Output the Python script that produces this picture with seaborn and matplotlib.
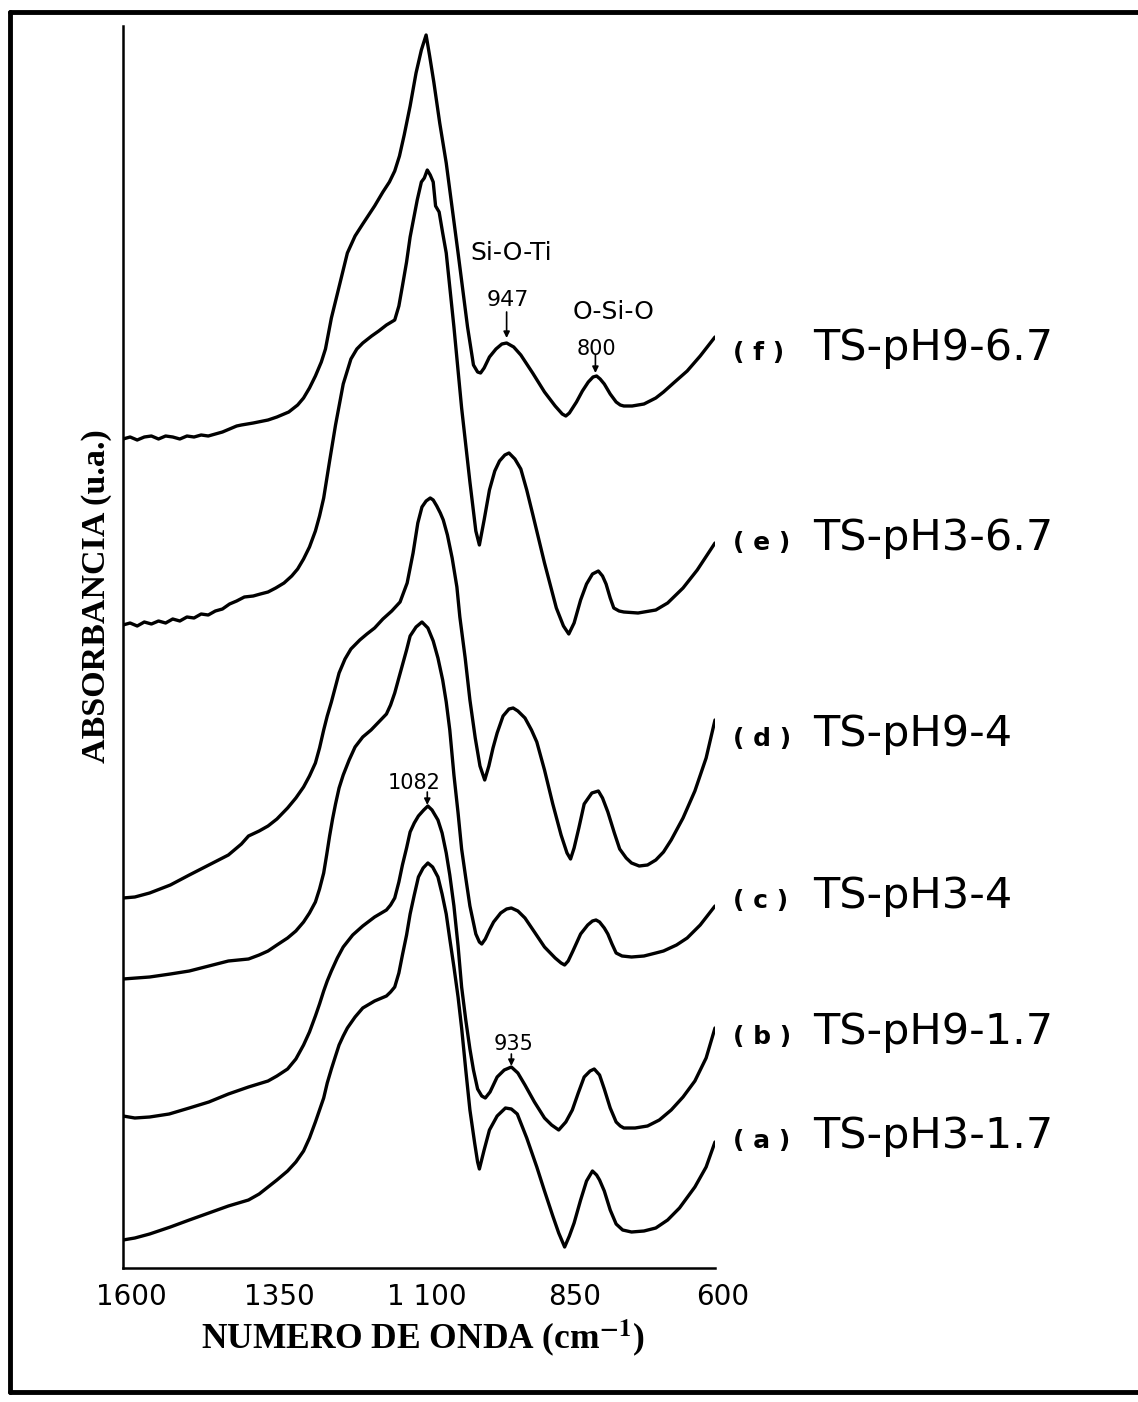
import pandas as pd
import matplotlib
matplotlib.use("Agg")
import matplotlib.pyplot as plt
import matplotlib.transforms as mtransforms
from matplotlib.lines import Line2D
import seaborn as sns

# wavenumber (cm-1) and stacked absorbance (a.u.)
wn_f = [1600, 1588, 1576, 1564, 1552, 1540, 1528, 1516, 1504, 1492, 1480, 1468, 1456, 1444, 1432,
        1420, 1408, 1400, 1380, 1355, 1340, 1320, 1305, 1295, 1285, 1275, 1265, 1258, 1248, 1238,
        1221, 1208, 1195, 1175, 1161, 1150, 1141, 1133, 1125, 1115, 1105, 1096, 1088, 1082, 1075,
        1065, 1054, 1044, 1034, 1026, 1018, 1008, 1001, 996, 990, 981, 970, 960, 952, 940, 928,
        908, 888, 870, 858, 852, 846, 834, 824, 814, 806, 800, 794, 787, 777, 767, 760, 754, 740,
        720, 700, 687, 670, 647, 625, 600]
abs_f = [8.29, 8.31, 8.28, 8.31, 8.32, 8.29, 8.32, 8.31, 8.29, 8.32, 8.31, 8.33, 8.32, 8.34, 8.36,
         8.39, 8.42, 8.43, 8.45, 8.48, 8.51, 8.56, 8.63, 8.70, 8.80, 8.92, 9.06, 9.19, 9.50, 9.74,
         10.15, 10.32, 10.44, 10.62, 10.76, 10.86, 10.97, 11.12, 11.33, 11.62, 11.95, 12.18, 12.33,
         12.12, 11.86, 11.45, 11.05, 10.60, 10.15, 9.78, 9.41, 9.03, 8.96, 8.95, 9.00, 9.11, 9.19,
         9.24, 9.25, 9.21, 9.13, 8.95, 8.76, 8.62, 8.54, 8.52, 8.55, 8.66, 8.77, 8.86, 8.91, 8.92,
         8.89, 8.84, 8.74, 8.66, 8.63, 8.62, 8.62, 8.64, 8.70, 8.76, 8.85, 8.97, 9.12, 9.31]

wn_e = [1600, 1588, 1576, 1564, 1552, 1540, 1528, 1516, 1504, 1492, 1480, 1468, 1456, 1444, 1432,
        1420, 1408, 1395, 1380, 1368, 1355, 1342, 1328, 1315, 1305, 1295, 1285, 1275, 1268, 1261,
        1251, 1241, 1228, 1215, 1205, 1195, 1180, 1168, 1155, 1141, 1134, 1128, 1121, 1115, 1103,
        1096, 1091, 1086, 1081, 1076, 1072, 1066, 1060, 1054, 1041, 1028, 1014, 1004, 998, 990,
        981, 972, 964, 955, 948, 938, 928, 918, 908, 888, 868, 856, 847, 838, 827, 817, 807, 797,
        790, 784, 777, 771, 762, 754, 730, 700, 680, 654, 630, 600]
abs_e = [6.43, 6.45, 6.42, 6.46, 6.44, 6.47, 6.45, 6.49, 6.47, 6.51, 6.50, 6.54, 6.53, 6.57, 6.59,
         6.64, 6.67, 6.71, 6.72, 6.74, 6.76, 6.80, 6.85, 6.92, 6.99, 7.09, 7.21, 7.37, 7.52, 7.70,
         8.07, 8.43, 8.84, 9.09, 9.19, 9.25, 9.32, 9.37, 9.43, 9.48, 9.62, 9.82, 10.06, 10.31,
         10.68, 10.86, 10.90, 10.98, 10.93, 10.86, 10.62, 10.56, 10.35, 10.15, 9.41, 8.60, 7.86,
         7.37, 7.23, 7.48, 7.78, 7.97, 8.07, 8.13, 8.15, 8.09, 7.99, 7.78, 7.54, 7.05, 6.60, 6.42,
         6.34, 6.45, 6.68, 6.84, 6.94, 6.97, 6.92, 6.84, 6.70, 6.60, 6.57, 6.56, 6.55, 6.58, 6.65,
         6.80, 6.98, 7.25]

wn_d = [1600, 1580, 1555, 1520, 1488, 1455, 1422, 1400, 1388, 1370, 1355, 1340, 1322, 1308, 1295,
        1285, 1275, 1268, 1261, 1255, 1248, 1235, 1225, 1215, 1200, 1188, 1175, 1161, 1146, 1132,
        1120, 1110, 1102, 1095, 1088, 1081, 1076, 1070, 1064, 1059, 1052, 1044, 1036, 1031, 1022,
        1014, 1005, 997, 989, 982, 975, 968, 958, 948, 941, 933, 921, 910, 901, 888, 874, 860, 850,
        844, 838, 830, 821, 808, 797, 790, 781, 770, 761, 750, 741, 728, 714, 700, 687, 674, 654,
        634, 615, 600]
abs_d = [3.70, 3.71, 3.75, 3.83, 3.93, 4.03, 4.13, 4.24, 4.32, 4.37, 4.42, 4.49, 4.60, 4.70, 4.81,
         4.92, 5.05, 5.20, 5.38, 5.52, 5.66, 5.95, 6.09, 6.19, 6.28, 6.34, 6.40, 6.49, 6.57, 6.66,
         6.85, 7.15, 7.45, 7.61, 7.67, 7.70, 7.68, 7.62, 7.55, 7.48, 7.33, 7.10, 6.81, 6.51, 6.10,
         5.68, 5.30, 5.02, 4.88, 5.02, 5.20, 5.35, 5.52, 5.59, 5.60, 5.57, 5.50, 5.38, 5.26, 4.98,
         4.64, 4.33, 4.15, 4.09, 4.20, 4.40, 4.64, 4.75, 4.77, 4.70, 4.56, 4.35, 4.19, 4.10, 4.05,
         4.02, 4.03, 4.08, 4.16, 4.28, 4.50, 4.77, 5.10, 5.48]

wn_c = [1600, 1555, 1520, 1488, 1455, 1422, 1388, 1370, 1355, 1340, 1322, 1308, 1295, 1285, 1275,
        1268, 1261, 1256, 1251, 1246, 1241, 1235, 1228, 1218, 1208, 1195, 1181, 1168, 1155, 1148,
        1141, 1135, 1128, 1121, 1115, 1105, 1095, 1085, 1076, 1068, 1060, 1054, 1048, 1041, 1034,
        1028, 1021, 1014, 1004, 998, 994, 988, 981, 974, 962, 952, 944, 933, 921, 905, 888, 870,
        860, 854, 848, 840, 827, 815, 807, 801, 795, 787, 781, 774, 767, 757, 741, 720, 700, 687,
        665, 647, 625, 600]
abs_c = [2.89, 2.91, 2.94, 2.97, 3.02, 3.07, 3.09, 3.13, 3.17, 3.23, 3.30, 3.37, 3.46, 3.55, 3.66,
         3.79, 3.95, 4.13, 4.32, 4.49, 4.64, 4.80, 4.93, 5.08, 5.21, 5.31, 5.38, 5.46, 5.54, 5.63,
         5.75, 5.88, 6.03, 6.18, 6.32, 6.41, 6.46, 6.40, 6.27, 6.10, 5.88, 5.66, 5.38, 4.93, 4.55,
         4.19, 3.90, 3.62, 3.34, 3.26, 3.24, 3.29, 3.38, 3.46, 3.55, 3.59, 3.60, 3.57, 3.50, 3.36,
         3.21, 3.10, 3.05, 3.03, 3.07, 3.17, 3.34, 3.43, 3.47, 3.48, 3.46, 3.40, 3.34, 3.24, 3.15,
         3.12, 3.11, 3.12, 3.15, 3.17, 3.23, 3.30, 3.43, 3.62]

wn_b = [1600, 1580, 1555, 1522, 1488, 1455, 1422, 1388, 1355, 1340, 1322, 1308, 1295, 1285, 1275,
        1268, 1261, 1255, 1248, 1238, 1228, 1212, 1195, 1175, 1155, 1148, 1141, 1134, 1128, 1121,
        1115, 1108, 1101, 1092, 1085, 1078, 1068, 1061, 1054, 1048, 1041, 1034, 1028, 1021, 1014,
        1008, 1001, 994, 988, 980, 968, 956, 944, 933, 921, 905, 888, 876, 864, 852, 841, 831, 821,
        811, 804, 795, 787, 777, 767, 760, 754, 735, 714, 694, 674, 654, 634, 615, 600]
abs_b = [1.52, 1.50, 1.51, 1.54, 1.60, 1.66, 1.74, 1.81, 1.87, 1.92, 1.99, 2.09, 2.23, 2.36, 2.52,
         2.64, 2.77, 2.87, 2.97, 3.10, 3.21, 3.33, 3.42, 3.51, 3.58, 3.63, 3.70, 3.86, 4.03, 4.20,
         4.36, 4.45, 4.52, 4.58, 4.62, 4.58, 4.48, 4.35, 4.15, 3.93, 3.62, 3.22, 2.81, 2.48, 2.19,
         1.98, 1.79, 1.72, 1.70, 1.76, 1.91, 1.98, 2.01, 1.95, 1.83, 1.66, 1.50, 1.43, 1.38, 1.46,
         1.58, 1.75, 1.91, 1.97, 1.99, 1.93, 1.79, 1.60, 1.46, 1.42, 1.40, 1.40, 1.42, 1.48, 1.58,
         1.71, 1.87, 2.10, 2.40]

wn_a = [1600, 1580, 1555, 1520, 1488, 1455, 1422, 1388, 1370, 1355, 1340, 1322, 1308, 1295, 1285,
        1275, 1268, 1261, 1255, 1248, 1241, 1235, 1228, 1221, 1208, 1195, 1175, 1155, 1148, 1141,
        1134, 1128, 1121, 1115, 1108, 1101, 1093, 1085, 1077, 1068, 1061, 1054, 1048, 1041, 1034,
        1028, 1021, 1014, 1006, 1001, 998, 990, 981, 968, 954, 944, 934, 918, 901, 888, 874, 864,
        854, 846, 838, 827, 817, 807, 800, 795, 787, 777, 767, 756, 741, 720, 700, 680, 660, 634,
        615, 600]
abs_a = [0.28, 0.30, 0.34, 0.41, 0.48, 0.55, 0.62, 0.68, 0.74, 0.81, 0.88, 0.97, 1.06, 1.17, 1.30,
         1.46, 1.58, 1.70, 1.85, 1.99, 2.12, 2.23, 2.32, 2.40, 2.51, 2.60, 2.67, 2.72, 2.76, 2.81,
         2.95, 3.13, 3.33, 3.54, 3.73, 3.91, 4.00, 4.05, 4.01, 3.91, 3.74, 3.54, 3.29, 3.01, 2.71,
         2.40, 1.98, 1.58, 1.25, 1.06, 0.99, 1.18, 1.38, 1.52, 1.60, 1.59, 1.54, 1.30, 1.01, 0.77,
         0.52, 0.35, 0.21, 0.32, 0.45, 0.68, 0.87, 0.97, 0.93, 0.88, 0.77, 0.58, 0.44, 0.38, 0.36,
         0.37, 0.40, 0.48, 0.60, 0.81, 1.01, 1.26]

sample_keys = ["a", "b", "c", "d", "e", "f"]
sample_names = ["TS-pH3-1.7", "TS-pH9-1.7", "TS-pH3-4", "TS-pH9-4", "TS-pH3-6.7", "TS-pH9-6.7"]
label_y = [1.20, 2.24, 3.60, 5.22, 7.18, 9.08]

tick_values = [1600, 1350, 1100, 850, 600]
tick_labels = ["1600", "1350", "1 100", "850", "600"]

# text, x, y, font size, arrow (x, y_start, y_end) or None
peak_notes = [
    ("Si-O-Ti", 945, 10.15, 18, None),
    ("947", 950, 9.68, 16, (952, 9.56, 9.30)),
    ("O-Si-O", 771, 9.56, 18, None),
    ("800", 801, 9.19, 15, (802, 9.13, 8.95)),
    ("1082", 1108, 4.85, 15, (1086, 4.76, 4.63)),
    ("935", 940, 2.24, 15, (944, 2.14, 2.02)),
]

sns.set_style("white")
plt.rcParams["font.family"] = ["DejaVu Sans"]
plt.rcParams["mathtext.fontset"] = "stix"
plt.rcParams["text.color"] = "black"
plt.rcParams["xtick.color"] = "black"
plt.rcParams["axes.labelcolor"] = "black"

frames = []
for key, wn, ab in zip(sample_keys, [wn_a, wn_b, wn_c, wn_d, wn_e, wn_f],
                       [abs_a, abs_b, abs_c, abs_d, abs_e, abs_f]):
    frames.append(pd.DataFrame({"wn": wn, "absorbance": ab, "sample": key}))
df = pd.concat(frames, ignore_index=True)

W, H = 1138, 1402
fig = plt.figure(figsize=(W / 100, H / 100), dpi=100)
ax = fig.add_axes([123 / W, 1 - 1268 / H, (715 - 123) / W, (1268 - 26) / H])

sns.lineplot(data=df, x="wn", y="absorbance", units="sample", estimator=None, sort=False,
             color="black", linewidth=2.4, ax=ax, legend=False)
for line in ax.get_lines():
    line.set_solid_joinstyle("round")
    line.set_solid_capstyle("round")

ax.set_xlim(1600, 600)
ax.set_ylim(0, 12.42)
ax.set_xlabel("")
ax.set_ylabel("")
ax.set_yticks([])
ax.set_xticks(tick_values)
ax.set_xticklabels(tick_labels)
ax.tick_params(axis="x", direction="inout", length=12, width=1.6, pad=5, labelsize=20,
               colors="black")
for lab in ax.get_xticklabels():
    lab.set_transform(lab.get_transform()
                      + mtransforms.ScaledTranslation(0.08, 0, fig.dpi_scale_trans))
for side in ["top", "right"]:
    ax.spines[side].set_visible(False)
for side in ["left", "bottom"]:
    ax.spines[side].set_linewidth(1.8)
    ax.spines[side].set_color("black")

for text, x, y, size, arrow in peak_notes:
    ax.text(x, y, text, ha="center", va="center", fontsize=size, color="black")
    if arrow is not None:
        ax.annotate("", xy=(arrow[0], arrow[2]), xytext=(arrow[0], arrow[1]),
                    arrowprops=dict(arrowstyle="-|>", color="black", lw=1.2,
                                    mutation_scale=9, shrinkA=0, shrinkB=0))

trans = mtransforms.blended_transform_factory(fig.transFigure, ax.transData)
for key, name, yv in zip(sample_keys, sample_names, label_y):
    ax.text(733 / W, yv, f"( {key} )", transform=trans, fontsize=18, fontweight="bold",
            ha="left", va="baseline", clip_on=False, color="black")
    ax.text(813 / W, yv, name, transform=trans, fontsize=31, ha="left", va="baseline",
            clip_on=False, color="black")

serif = ["Liberation Serif", "DejaVu Serif"]
fig.text(97 / W, 1 - 596 / H, "ABSORBANCIA (u.a.)", rotation=90, ha="center", va="center",
         fontsize=24.5, fontweight="bold", family=serif, color="black")
fig.text(423 / W, 1 - 1338 / H, r"NUMERO DE ONDA (cm$^{\mathbf{-1}}$)", ha="center",
         va="center", fontsize=25.5, fontweight="bold", family=serif, color="black")

# scanned frame: top, left and bottom edges
for xs, ys in [([10 / W, 1.0], [1 - 12 / H, 1 - 12 / H]),
               ([10 / W, 10 / W], [1 - 12 / H, 1 - 1392 / H]),
               ([10 / W, 1.0], [1 - 1392 / H, 1 - 1392 / H])]:
    fig.add_artist(Line2D(xs, ys, transform=fig.transFigure, color="black", lw=3.5))

fig.savefig("out.png", dpi=100)
plt.close(fig)
